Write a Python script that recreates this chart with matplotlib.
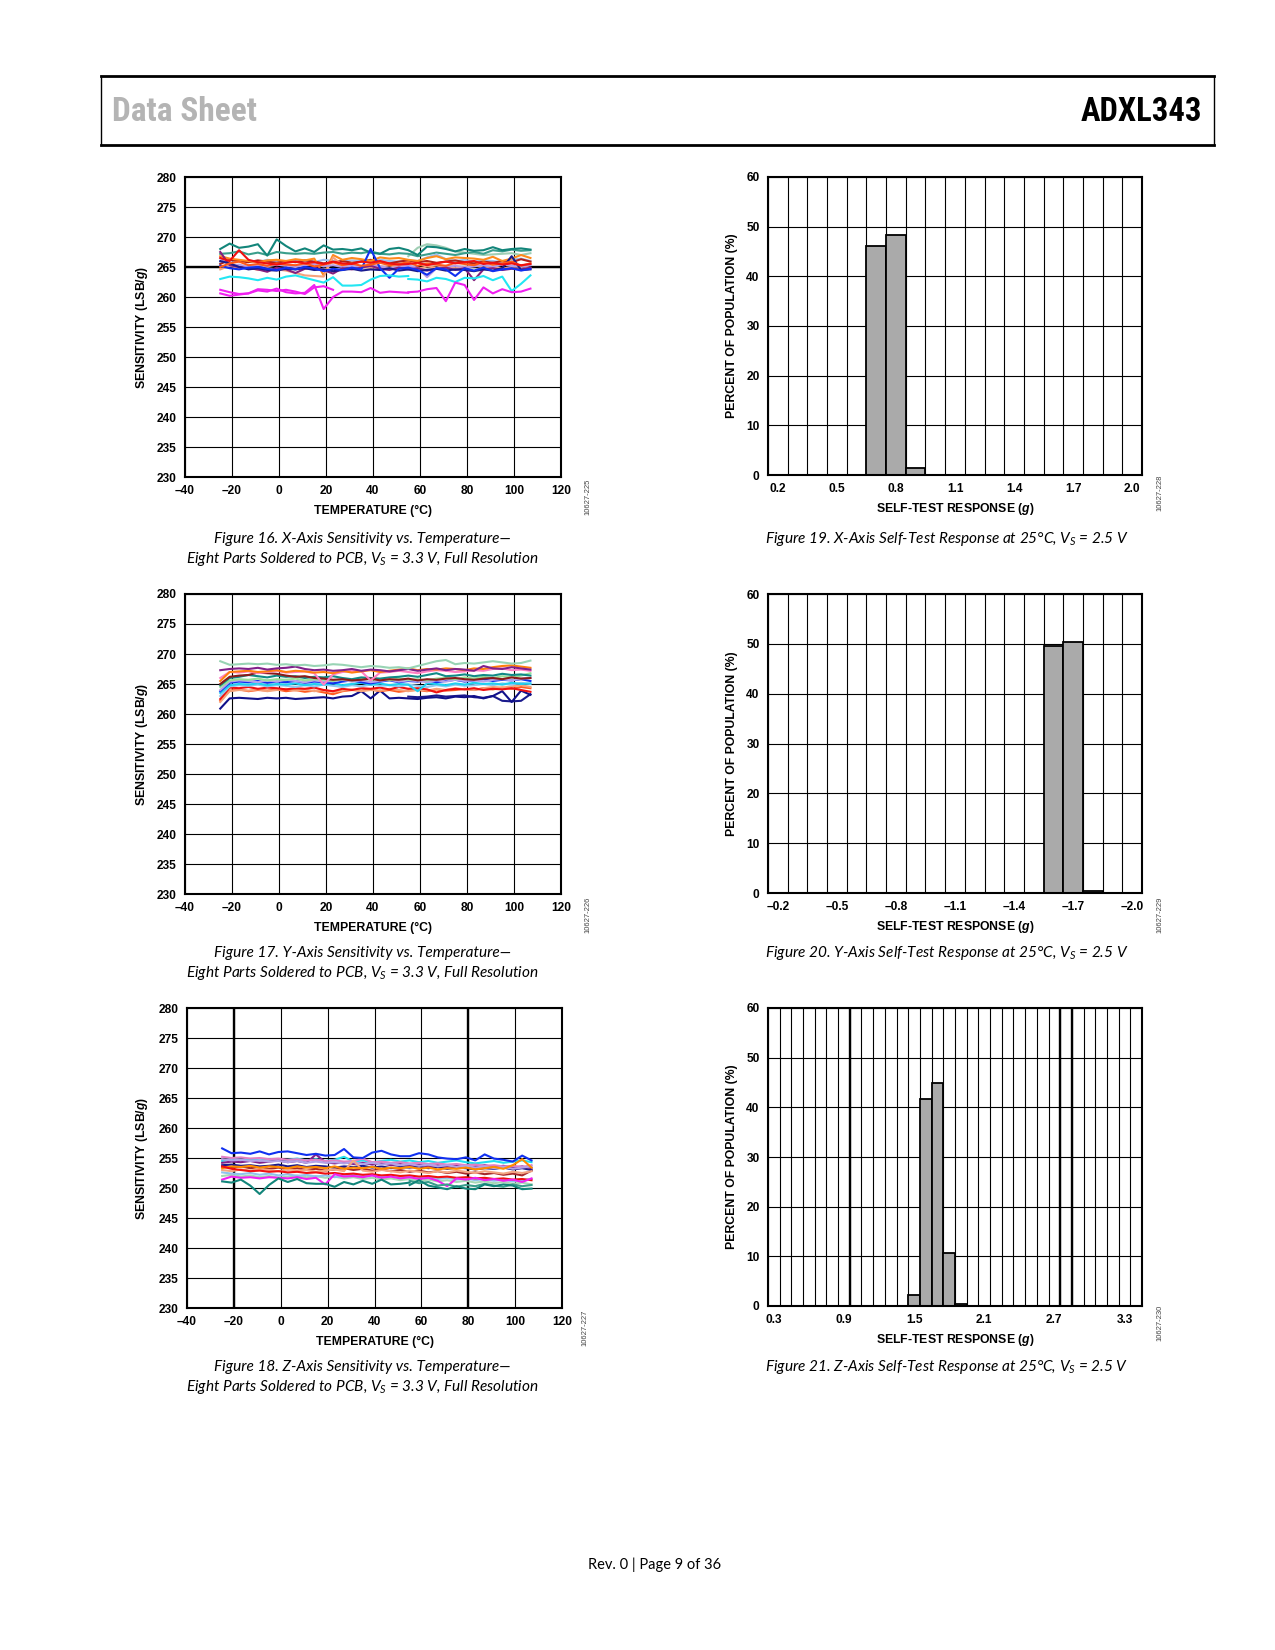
import numpy as np
import matplotlib
matplotlib.use('Agg')
import matplotlib.pyplot as plt
from matplotlib import font_manager
from matplotlib.lines import Line2D

N = np.nan

# ---------------- DATA ----------------
TEMP = [-25, -21, -17, -13, -9, -5, -1, 3, 7, 11, 15, 19, 23, 27, 31, 35, 39,
        43, 47, 51, 55, 59, 63, 67, 71, 75, 79, 83, 87, 91, 95, 99, 103, 107]

X_TICKS = [-40, -20, 0, 20, 40, 60, 80, 100, 120]
X_TICK_LABELS = ['\u201340', '\u201320', '0', '20', '40', '60', '80', '100', '120']
Y_TICKS = [230, 235, 240, 245, 250, 255, 260, 265, 270, 275, 280]

# Figure 16: X-axis sensitivity
X_SENS = {
    'pale_green_hi': [N, N, N, N, N, N, N, N, N, N, N, N, N, N, N, N, N,
                      N, N, N, 266.8, 268.2, 268.8, 268.6, 268.2, 267.6, 267.4, 267.2, 267.0, 267.1, 267.2, 267.3, 267.0, 267.3],
    'teal_lo': [267.2, 267.3, 267.6, 267.1, 267.4, 267.0, 267.5, 267.3, 267.2, 267.3, 267.2, 267.4, 267.5, 267.2, 267.4, 267.3, 267.6,
                267.2, 267.1, 267.3, 267.2, 266.8, 267.1, 267.4, 267.2, 267.0, 267.3, 267.5, 267.2, 267.8, 267.6, 267.9, 267.7, 267.8],
    'teal_hi': [268.0, 268.9, 268.2, 268.4, 268.8, 266.9, 269.6, 268.5, 267.6, 268.1, 267.5, 268.6, 267.9, 268.0, 267.8, 268.1, 267.4,
                267.2, 268.0, 268.2, 267.8, 267.0, 268.4, 268.3, 268.0, 267.6, 268.0, 267.7, 267.8, 268.3, 267.8, 268.0, 268.1, 267.9],
    'light_blue': [265.8, 266.1, 265.9, 266.0, 265.8, 266.2, 266.0, 265.9, 266.1, 266.0, 265.8, 266.2, 266.0, 265.9, 266.1, 266.0, 265.8,
                   266.2, 266.0, 265.9, 266.1, 266.0, 266.6, 267.1, 266.3, 266.0, 266.2, 265.9, 266.1, 266.0, 265.8, 266.2, 266.4, 266.0],
    'dark_red': [265.5, 266.2, 266.0, 265.8, 266.1, 265.9, 265.7, 266.0, 265.8, 266.1, 265.9, 265.6, 265.8, 266.0, 265.7, 265.9, 266.2,
                 265.8, 265.6, 265.9, 266.1, 265.8, 266.0, 265.7, 265.9, 266.1, 265.8, 265.6, 265.9, 265.7, 266.0, 265.8, 266.3, 265.9],
    'orange': [266.8, 266.4, 266.2, 266.0, 265.8, 266.1, 266.2, 266.0, 266.3, 266.1, 266.4, 263.6, 267.0, 266.2, 266.5, 266.3, 266.0,
               266.6, 266.4, 266.5, 266.2, 266.0, 266.5, 266.8, 266.3, 266.6, 266.5, 266.4, 266.2, 266.7, 266.0, 266.4, 267.0, 266.5],
    'salmon': [264.6, 265.2, 264.8, 265.0, 264.5, 264.8, 264.6, 264.4, 264.0, 263.6, 263.5, 263.4, 266.6, 265.3, 265.0, 265.2, 264.8,
               265.1, 264.9, 265.2, 265.0, 264.7, 265.1, 264.9, 265.2, 264.8, 265.0, 265.3, 264.9, 265.1, 264.7, 265.0, 265.2, 264.8],
    'lavender': [266.5, 265.2, 265.4, 265.0, 265.3, 265.1, 265.4, 265.2, 265.0, 265.3, 265.5, 265.1, 265.3, 265.0, 265.2, 264.9, 265.3,
                 265.1, 264.8, 265.0, 265.2, 264.9, 263.3, 264.8, 265.0, 265.2, 264.9, 265.1, 265.3, 265.0, 265.4, 265.2, 265.0, 265.3],
    'purple': [267.5, 265.3, 265.0, 264.8, 264.6, 264.2, 264.9, 264.6, 264.0, 264.7, 264.9, 264.5, 263.9, 264.8, 264.6, 264.9, 265.2,
               264.7, 264.5, 264.9, 264.6, 264.8, 264.4, 264.7, 264.9, 264.5, 264.8, 262.8, 264.6, 264.8, 264.5, 264.7, 264.6, 264.9],
    'navy': [266.0, 265.6, 265.0, 264.6, 264.8, 264.5, 264.4, 264.7, 264.6, 264.8, 264.5, 264.6, 264.3, 264.5, 264.7, 264.4, 264.6,
             264.5, 264.8, 264.4, 264.6, 264.3, 264.5, 264.7, 264.4, 264.6, 264.5, 264.3, 264.6, 264.4, 264.8, 266.8, 264.5, 264.6],
    'blue': [265.2, 264.8, 264.6, 264.9, 265.0, 264.7, 264.5, 264.9, 264.6, 265.0, 264.8, 264.3, 264.7, 264.5, 264.9, 264.6, 268.0,
             264.8, 263.2, 264.7, 264.9, 264.5, 263.7, 264.8, 264.6, 263.5, 264.8, 264.4, 264.9, 264.3, 264.6, 264.8, 264.4, 264.7],
    'orange_red': [265.0, 265.6, 265.9, 265.3, 265.5, 265.2, 265.6, 265.4, 265.3, 265.6, 265.1, 265.4, 265.8, 265.3, 265.6, 265.2, 265.4,
                   265.7, 265.3, 265.5, 265.8, 265.2, 265.6, 265.4, 265.2, 265.7, 265.5, 265.3, 265.8, 265.4, 265.6, 265.9, 265.2, 265.6],
    'red': [266.5, 266.0, 267.8, 266.2, 265.8, 265.6, 265.4, 265.7, 265.9, 265.6, 265.8, 265.5, 265.9, 265.6, 265.5, 265.9, 265.7,
            266.0, 265.6, 265.4, 265.5, 265.7, 265.3, 265.6, 265.9, 265.6, 265.8, 266.0, 265.5, 265.7, 265.4, 265.6, 265.3, 265.5],
    'cyan_a': [263.0, 263.4, 263.3, 263.1, 262.8, 263.2, 262.9, 263.4, 263.6, 263.2, 262.8, 262.4, 263.3, 261.9, 261.9, 262.0, 262.9,
               263.5, 263.6, 263.4, 263.5, N, N, N, N, N, N, N, N, N, N, N, N, N],
    'cyan_b': [N, N, N, N, N, N, N, N, N, N, N, N, N, N, N, N, N,
               N, N, N, 263.0, 262.9, 262.6, 263.2, 263.0, 262.5, 263.2, 263.1, 263.5, 262.8, 263.4, 261.0, 262.2, 263.6],
    'magenta_a': [261.2, 260.8, 260.5, 260.6, 261.1, 260.9, 261.4, 260.8, 260.6, 260.7, 262.0, 258.0, 260.0, 260.9, 260.9, 260.8, 261.5,
                  260.7, 260.9, 260.8, 260.7, N, N, N, N, N, N, N, N, N, N, N, N, N],
    'magenta_b': [260.6, 260.2, 260.4, 260.6, 261.3, 261.2, 261.0, 261.2, 260.9, 260.5, 261.6, 261.8, 261.2, N, N, N, N,
                  N, N, N, N, N, N, N, N, N, N, N, N, N, N, N, N, N],
    'magenta_c': [N, N, N, N, N, N, N, N, N, N, N, N, N, N, N, N, N,
                  N, N, N, 260.8, 260.9, 261.3, 261.5, 259.3, 262.4, 262.0, 259.5, 261.6, 260.6, 261.3, 260.8, 260.9, 261.4],
}
X_COLORS = {
    'pale_green_hi': '#9fceb4', 'teal_lo': '#3a9e8c', 'teal_hi': '#12857a', 'light_blue': '#9cc0f0',
    'dark_red': '#b0201a', 'orange': '#ff8a1c', 'salmon': '#f7a27c', 'lavender': '#b59ce6',
    'purple': '#86207e', 'navy': '#1a1a8c', 'blue': '#1030f0', 'orange_red': '#ff5a1a',
    'red': '#f01010', 'cyan_a': '#22e6f2', 'cyan_b': '#22e6f2', 'magenta_a': '#f020f0',
    'magenta_b': '#f020f0', 'magenta_c': '#f020f0',
}

# Figure 17: Y-axis sensitivity
Y_SENS = {
    'navy_b': [N, N, N, N, N, N, N, N, N, N, N, N, N, N, N, N, N,
               N, N, N, 262.9, 262.8, 262.9, 263.1, 262.9, 263.0, 263.1, 262.8, 262.7, 263.0, 262.2, 262.1, 262.2, 263.3],
    'navy_a': [260.9, 262.6, 262.7, 262.6, 262.5, 262.7, 262.6, 262.7, 262.5, 262.6, 262.7, 262.8, 262.6, 262.9, 263.0, 263.8, 262.6,
               263.9, 262.6, 262.7, 262.6, 262.5, 262.7, 262.8, 262.6, 262.9, 262.8, 263.0, 262.6, 263.0, 263.8, 262.0, 263.9, 263.2],
    'orange_red': [262.2, 263.9, 264.1, 263.8, 264.0, 263.9, 264.1, 263.8, 264.0, 263.7, 263.9, 263.6, 263.3, 263.8, 264.0, 263.9, 264.1,
                   263.8, 264.0, 263.7, 263.9, 264.0, 263.8, 264.1, 263.9, 264.0, 264.2, 264.0, 264.3, 264.1, 264.4, 264.2, 264.5, 264.3],
    'salmon': [262.0, 263.8, 264.0, 263.9, 264.1, 263.8, 264.0, 264.2, 263.9, 264.1, 263.8, 264.0, 263.7, 263.9, 264.1, 263.8, 264.0,
               263.9, 264.2, 264.0, 263.8, 264.1, 263.9, 264.2, 264.0, 264.3, 264.1, 264.0, 264.3, 264.5, 264.4, 264.6, 264.8, 264.5],
    'red': [262.5, 264.4, 264.3, 264.5, 264.2, 264.4, 264.3, 264.1, 264.3, 264.2, 264.4, 264.0, 263.8, 264.2, 264.0, 264.3, 264.2,
            264.4, 264.1, 264.5, 264.2, 264.3, 264.1, 263.6, 264.0, 264.2, 264.1, 264.3, 264.0, 264.2, 264.1, 264.3, 264.0, 263.7],
    'light_blue': [263.0, 264.6, 264.8, 264.7, 264.9, 264.6, 264.8, 264.7, 264.5, 264.8, 264.6, 264.9, 264.7, 264.5, 264.8, 264.6, 264.9,
                   264.7, 264.8, 264.6, 264.9, 264.7, 264.5, 264.8, 264.6, 264.9, 264.7, 264.8, 265.0, 264.8, 265.1, 264.9, 265.2, 265.0],
    'cyan': [263.5, 264.8, 265.0, 264.9, 265.1, 264.8, 265.0, 264.9, 265.1, 264.8, 265.0, 264.9, 265.1, 264.8, 265.0, 265.2, 264.9,
             265.1, 264.8, 265.0, 264.9, 263.8, 265.1, 265.0, 264.8, 265.1, 264.9, 265.2, 265.0, 265.1, 264.9, 265.2, 265.0, 265.1],
    'blue': [263.8, 265.2, 265.4, 265.3, 265.5, 265.2, 265.4, 265.3, 265.5, 265.2, 265.4, 265.3, 265.1, 265.4, 265.6, 265.3, 265.1,
             265.4, 265.6, 265.3, 265.5, 265.4, 265.6, 265.3, 265.5, 265.7, 265.4, 265.6, 265.8, 265.5, 265.7, 265.6, 265.8, 265.5],
    'lavender': [264.0, 265.4, 265.6, 265.5, 265.3, 265.6, 265.4, 265.7, 265.5, 265.3, 265.6, 265.4, 265.5, 265.7, 265.4, 265.6, 265.3,
                 265.5, 265.7, 265.4, 265.6, 265.5, 265.3, 265.6, 265.4, 265.7, 265.5, 265.6, 265.4, 265.7, 265.8, 265.6, 265.9, 266.0],
    'light_green': [264.5, 265.6, 265.8, 265.7, 265.9, 265.6, 265.8, 265.7, 265.9, 265.6, 265.8, 265.7, 265.5, 265.8, 265.6, 265.9, 265.7,
                    265.8, 265.6, 265.9, 265.7, 265.8, 265.6, 265.9, 266.0, 265.8, 266.1, 265.9, 266.2, 266.0, 266.3, 266.1, 266.4, 266.8],
    'teal': [264.8, 266.0, 266.2, 266.5, 266.3, 266.1, 266.4, 266.2, 266.3, 266.0, 266.2, 266.1, 266.3, 266.0, 265.8, 266.1, 266.0,
             265.9, 266.1, 266.2, 266.4, 266.2, 266.5, 266.8, 266.3, 266.4, 266.6, 266.3, 266.5, 266.4, 266.7, 266.5, 266.6, 266.4],
    'dark_red': [265.0, 266.2, 266.4, 266.5, 266.9, 266.8, 266.7, 266.4, 266.2, 266.3, 266.0, 265.9, 265.7, 265.8, 265.6, 265.7, 265.9,
                 265.6, 265.8, 265.7, 265.9, 265.6, 265.8, 265.7, 265.9, 266.0, 265.8, 265.7, 265.9, 266.0, 265.8, 266.1, 265.9, 266.0],
    'pink': [266.0, 267.0, 266.9, 267.1, 266.8, 267.0, 267.2, 266.9, 267.0, 267.1, 266.8, 264.9, 266.6, 267.0, 267.2, 267.1, 265.6,
             266.9, 267.0, 267.2, 267.0, 266.8, 267.1, 267.3, 267.2, 267.0, 267.1, 267.3, 267.2, 267.5, 267.6, 267.3, 267.4, 267.2],
    'orange': [265.5, 267.0, 267.1, 267.2, 267.0, 267.1, 267.3, 267.0, 267.2, 267.1, 266.9, 267.0, 266.8, 267.2, 266.9, 267.1, 267.3,
               267.0, 267.2, 267.4, 267.6, 267.3, 267.5, 267.4, 267.6, 267.5, 267.3, 267.6, 267.5, 267.8, 268.0, 268.1, 267.9, 267.7],
    'purple': [267.3, 267.5, 267.6, 267.5, 267.7, 267.4, 267.6, 267.7, 267.9, 267.5, 267.3, 267.4, 267.2, 267.3, 267.5, 267.2, 267.4,
               267.3, 267.1, 267.3, 267.5, 267.2, 267.4, 267.6, 267.3, 267.5, 267.4, 267.2, 268.0, 267.6, 267.5, 267.8, 267.6, 267.4],
    'pale_green': [268.8, 268.2, 268.3, 268.4, 268.3, 268.4, 268.2, 268.3, 268.1, 268.2, 268.0, 268.1, 268.3, 268.2, 268.0, 267.8, 268.0,
                   267.9, 267.7, 267.8, 267.6, 268.0, 268.4, 268.8, 269.0, 268.3, 268.5, 268.4, 268.6, 268.8, 268.6, 268.4, 268.5, 268.9],
}
Y_COLORS = {
    'navy_b': '#1a1a8c', 'navy_a': '#10108a', 'orange_red': '#ff5a1f', 'salmon': '#f5a37a', 'red': '#f01010',
    'light_blue': '#8ec8f0', 'cyan': '#20d0f0', 'blue': '#1030f0', 'lavender': '#b7a4ea', 'light_green': '#98e098',
    'teal': '#108a86', 'dark_red': '#8b1a1a', 'pink': '#ff80c4', 'orange': '#ff7f0e', 'purple': '#80208a',
    'pale_green': '#98d4b4',
}

# Figure 18: Z-axis sensitivity
Z_SENS = {
    'pale_green': [252.0, 252.2, 251.9, 252.1, 251.8, 252.0, 251.7, 251.9, 252.1, 251.8, 252.0, 251.7, 251.9, 251.6, 251.8, 251.5, 251.7,
                   251.4, 251.6, 251.3, 251.5, 251.2, 251.4, 251.1, 251.3, 251.0, 251.2, 250.9, 251.1, 250.8, 251.0, 250.7, 250.9, 250.6],
    'light_blue': [252.6, 252.4, 252.3, 252.5, 252.2, 252.4, 252.1, 252.3, 252.0, 252.2, 251.9, 252.1, 251.8, 252.0, 252.2, 251.9, 252.1,
                   251.8, 252.0, 251.7, 251.9, 251.6, 251.8, 251.5, 251.7, 251.4, 251.6, 251.3, 251.5, 251.2, 251.4, 251.1, 251.3, 251.5],
    'dark_red': [253.5, 253.4, 253.6, 253.3, 253.5, 253.2, 253.4, 253.1, 253.3, 253.0, 253.2, 252.9, 253.1, 253.3, 253.0, 253.2, 252.9,
                 253.1, 252.8, 253.0, 252.7, 252.9, 252.6, 252.8, 252.5, 252.7, 252.4, 252.6, 252.3, 252.5, 252.2, 252.4, 252.1, 252.9],
    'navy': [253.8, 253.9, 253.7, 253.8, 253.6, 253.7, 253.9, 253.6, 253.8, 253.5, 253.7, 253.6, 253.4, 253.6, 253.5, 253.7, 253.4,
             253.6, 253.3, 253.5, 253.4, 253.6, 253.3, 253.5, 253.2, 253.4, 253.3, 253.1, 253.3, 253.2, 253.4, 253.1, 253.3, 253.0],
    'cyan': [254.5, 254.9, 254.7, 254.8, 254.6, 254.8, 254.5, 254.7, 254.9, 254.6, 254.8, 254.5, 254.7, 255.2, 254.4, 254.6, 254.3,
             254.5, 254.7, 254.4, 254.6, 254.3, 254.5, 254.2, 254.4, 254.6, 254.3, 254.1, 254.3, 254.5, 254.2, 254.4, 254.6, 254.3],
    'purple': [254.2, 254.4, 254.3, 254.5, 254.2, 254.4, 254.6, 254.3, 254.5, 254.2, 255.6, 254.3, 254.1, 254.3, 254.0, 254.2, 253.9,
               254.1, 253.8, 254.0, 253.7, 253.9, 253.6, 253.8, 253.5, 253.7, 253.4, 253.6, 253.8, 253.5, 253.7, 253.4, 253.6, 253.3],
    'pink': [255.2, 255.0, 255.1, 254.9, 255.0, 254.8, 254.9, 254.7, 254.8, 254.6, 254.7, 254.5, 254.6, 254.4, 254.5, 254.9, 254.3,
             254.4, 254.2, 254.3, 254.1, 254.2, 254.0, 254.1, 253.9, 254.0, 253.8, 253.9, 253.7, 253.8, 253.6, 253.7, 253.5, 253.8],
    'lavender': [254.8, 254.6, 254.7, 254.5, 254.6, 254.4, 254.5, 254.3, 254.5, 254.2, 254.4, 254.2, 254.3, 254.1, 254.3, 254.0, 254.2,
                 253.9, 254.1, 253.8, 254.0, 253.7, 253.9, 253.6, 253.8, 253.5, 253.7, 253.4, 253.6, 253.3, 253.5, 253.2, 253.4, 253.6],
    'salmon': [253.0, 252.8, 253.1, 252.9, 253.2, 253.0, 252.8, 253.1, 252.9, 253.0, 252.7, 252.9, 253.1, 252.8, 254.6, 252.9, 252.7,
               253.0, 252.8, 252.6, 252.9, 252.7, 252.5, 252.8, 252.6, 252.9, 252.7, 252.5, 252.8, 252.6, 252.4, 252.7, 252.5, 252.8],
    'orange': [253.3, 253.6, 253.5, 253.7, 253.4, 253.6, 253.5, 253.3, 253.6, 253.4, 253.5, 253.3, 253.6, 253.2, 253.4, 253.3, 253.5,
               253.2, 253.4, 253.3, 253.5, 253.2, 253.4, 253.1, 253.3, 253.2, 253.4, 253.1, 253.3, 253.5, 253.2, 253.8, 254.8, 253.4],
    'red': [253.6, 253.2, 253.0, 252.8, 252.9, 252.7, 252.8, 252.6, 252.7, 252.5, 252.6, 252.4, 252.5, 252.3, 252.4, 252.2, 252.3,
            252.1, 252.2, 252.0, 252.1, 251.9, 252.0, 251.8, 251.9, 251.7, 251.8, 251.6, 251.7, 251.5, 251.6, 251.4, 251.5, 251.3],
    'magenta': [251.4, 251.9, 251.7, 251.8, 251.6, 251.8, 251.7, 251.6, 251.8, 251.5, 251.7, 250.6, 252.3, 251.9, 252.0, 251.8, 252.1,
                251.7, 251.9, 251.6, 251.8, 251.5, 251.7, 251.2, 250.3, 251.6, 251.4, 251.7, 251.3, 251.5, 251.2, 251.4, 251.0, 251.6],
    'teal_c': [N, N, N, N, N, N, N, N, N, N, N, N, N, N, N, N, N,
               N, N, N, 251.2, 250.8, 251.0, 250.4, 250.6, 250.2, 250.5, 250.3, 250.7, 250.4, 250.2, 250.6, 250.3, 250.5],
    'teal_b': [N, N, N, N, N, N, N, N, N, N, N, N, N, N, N, N, N,
               N, N, N, 250.5, 251.3, 250.4, 250.1, 249.8, 250.3, 249.9, 249.8, 250.6, 250.3, 250.6, 250.4, 249.8, 249.9],
    'teal_a': [251.1, 250.9, 251.4, 250.4, 249.0, 250.5, 251.6, 251.0, 251.5, 250.8, 250.7, 250.7, 250.2, 251.0, 250.6, 251.2, 250.7,
               251.4, 250.6, 250.7, 250.9, N, N, N, N, N, N, N, N, N, N, N, N, N],
    'blue': [256.6, 255.8, 255.9, 255.7, 256.1, 255.6, 256.0, 256.1, 255.8, 255.5, 255.7, 255.4, 255.5, 256.5, 255.1, 255.0, 255.9,
             256.2, 255.6, 255.3, 255.3, 255.8, 255.6, 255.1, 254.9, 254.8, 255.1, 254.6, 255.6, 254.9, 254.7, 254.4, 255.4, 254.6],
}
Z_COLORS = {
    'pale_green': '#a6d9b5', 'light_blue': '#8fc2ee', 'dark_red': '#a52a2a', 'navy': '#1a1a8c', 'cyan': '#20e0ee',
    'purple': '#80208a', 'pink': '#e37fc4', 'lavender': '#b3a2e8', 'salmon': '#f4a582', 'orange': '#ff8c00',
    'red': '#f01010', 'magenta': '#f020f0', 'teal_c': '#3a9e8c', 'teal_b': '#12857a', 'teal_a': '#12857a',
    'blue': '#1030f0',
}

# Self-test histograms (bin centre, percent)
XST_BINS = [0.7, 0.8, 0.9]
XST_PCT = [46.2, 48.3, 1.5]
XST_TICKS = [0.2, 0.5, 0.8, 1.1, 1.4, 1.7, 2.0]
XST_LABELS = ['0.2', '0.5', '0.8', '1.1', '1.4', '1.7', '2.0']

YST_BINS = [-1.6, -1.7, -1.8]
YST_PCT = [49.6, 50.3, 0.4]
YST_TICKS = [-0.2, -0.5, -0.8, -1.1, -1.4, -1.7, -2.0]
YST_LABELS = ['\u20130.2', '\u20130.5', '\u20130.8', '\u20131.1', '\u20131.4', '\u20131.7', '\u20132.0']

ZST_BINS = [1.5, 1.6, 1.7, 1.8, 1.9]
ZST_PCT = [2.2, 41.7, 45.0, 10.6, 0.5]
ZST_TICKS = [0.3, 0.9, 1.5, 2.1, 2.7, 3.3]
ZST_LABELS = ['0.3', '0.9', '1.5', '2.1', '2.7', '3.3']

PCT_TICKS = [0, 10, 20, 30, 40, 50, 60]

# ---------------- FONTS ----------------
names = {f.name for f in font_manager.fontManager.ttflist}


def pick(*cands):
    for n in cands:
        if n in names:
            return n
    return 'DejaVu Sans'


SANS = pick('Liberation Sans', 'Arial', 'DejaVu Sans')
NARROW = pick('Liberation Sans Narrow', 'Roboto Condensed', 'Liberation Sans')
CAP = pick('Lato', 'Open Sans', 'Noto Sans')

plt.rcParams['font.family'] = [SANS, 'DejaVu Sans']
plt.rcParams['mathtext.fontset'] = 'custom'
plt.rcParams['mathtext.it'] = CAP + ':italic'
plt.rcParams['mathtext.rm'] = CAP + ':italic'
plt.rcParams['mathtext.bf'] = SANS + ':bold:italic'

W, H = 1275, 1650
fig = plt.figure(figsize=(W / 100, H / 100), dpi=100)


def axes_px(l, t, r, b):
    return fig.add_axes([l / W, 1 - b / H, (r - l) / W, (b - t) / H])


def ftext(x, y, s, **kw):
    return fig.text(x / W, 1 - y / H, s, **kw)


def hline_px(x0, x1, y, lw):
    fig.add_artist(Line2D([x0 / W, x1 / W], [1 - y / H, 1 - y / H], color='black', lw=lw,
                          transform=fig.transFigure))


def vline_px(x, y0, y1, lw):
    fig.add_artist(Line2D([x / W, x / W], [1 - y0 / H, 1 - y1 / H], color='black', lw=lw,
                          transform=fig.transFigure))


TICK_FS = 8.6
LAB_FS = 8.8
CAP_FS = 11.1


def style_ticks(ax):
    ax.tick_params(which='both', length=0, labelsize=TICK_FS)
    ax.tick_params(axis='y', pad=6)
    ax.tick_params(axis='x', pad=6)
    for lab in ax.get_xticklabels() + ax.get_yticklabels():
        lab.set_fontweight('bold')
    for s in ax.spines.values():
        s.set_linewidth(1.5)
        s.set_zorder(5)


def line_chart(box, data, colors, thick_h=(), thick_v=()):
    ax = axes_px(*box)
    ax.set_axisbelow(True)
    for key, vals in data.items():
        ax.plot(TEMP, vals, color=colors[key], lw=1.5, zorder=3)
    ax.set_xlim(-40, 120)
    ax.set_ylim(230, 280)
    ax.set_xticks(X_TICKS)
    ax.set_xticklabels(X_TICK_LABELS)
    ax.set_yticks(Y_TICKS)
    ax.grid(True, color='black', lw=0.8)
    for v in thick_h:
        ax.axhline(v, color='black', lw=1.7, zorder=1)
    for v in thick_v:
        ax.axvline(v, color='black', lw=1.7, zorder=1)
    style_ticks(ax)
    l, t, r, b = box
    ftext((l + r) / 2, b + 34, 'TEMPERATURE (\u00b0C)', ha='center', va='center',
          fontsize=LAB_FS, fontweight='bold')
    ftext(142, (t + b) / 2, 'SENSITIVITY (LSB/$\\mathbf{g}$)', ha='center', va='center',
          rotation=90, fontsize=LAB_FS, fontweight='bold')
    return ax


def hist_chart(box, centers, pct, xlim, ticks, labels, thick=()):
    ax = axes_px(*box)
    ax.set_axisbelow(True)
    ax.bar(centers, pct, width=0.1, color='#aaaaaa', edgecolor='black', lw=1.3, zorder=3)
    ax.set_xlim(*xlim)
    ax.set_ylim(0, 60)
    ax.set_xticks(ticks)
    ax.set_xticklabels(labels)
    lo, hi = min(xlim), max(xlim)
    nb = int(round((hi - lo) / 0.1))
    ax.set_xticks([lo + 0.1 * k for k in range(nb + 1)], minor=True)
    ax.set_yticks(PCT_TICKS)
    ax.grid(True, which='minor', axis='x', color='black', lw=0.8)
    ax.grid(True, which='major', axis='y', color='black', lw=0.8)
    ax.grid(False, which='major', axis='x')
    for v in thick:
        ax.axvline(v, color='black', lw=1.7, zorder=1)
    style_ticks(ax)
    l, t, r, b = box
    ftext((l + r) / 2, b + 34, 'SELF-TEST RESPONSE ($\\mathbf{g}$)', ha='center', va='center',
          fontsize=LAB_FS, fontweight='bold')
    ftext(732, (t + b) / 2, 'PERCENT OF POPULATION (%)', ha='center', va='center',
          rotation=90, fontsize=LAB_FS, fontweight='bold')
    return ax


# ---------------- HEADER ----------------
hline_px(101, 1214, 76, 2.0)
hline_px(101, 1214, 145, 2.0)
vline_px(101, 76, 145, 1.0)
vline_px(1214, 76, 145, 1.0)
ftext(112, 112, 'Data Sheet', ha='left', va='center', fontsize=24, fontweight='bold',
      color='#b4b4b4', family=[NARROW, 'DejaVu Sans'])
ftext(1202, 112, 'ADXL343', ha='right', va='center', fontsize=23.5, fontweight='bold',
      color='black', family=[NARROW, 'DejaVu Sans'])

# ---------------- CHARTS ----------------
line_chart((185, 177, 561, 477), X_SENS, X_COLORS, thick_h=(265,))
line_chart((185, 594, 561, 894), Y_SENS, Y_COLORS)
line_chart((187, 1008, 562, 1308), Z_SENS, Z_COLORS, thick_v=(-20, 80))

hist_chart((768, 177, 1142, 475), XST_BINS, XST_PCT, (0.15, 2.05), XST_TICKS, XST_LABELS)
hist_chart((768, 594, 1142, 893), YST_BINS, YST_PCT, (-0.15, -2.05), YST_TICKS, YST_LABELS)
hist_chart((768, 1008, 1142, 1306), ZST_BINS, ZST_PCT, (0.25, 3.45), ZST_TICKS, ZST_LABELS,
           thick=(0.95, 2.75, 2.85))

# figure ids
for (x, y, s) in [(588, 497, '10627-225'), (588, 915, '10627-226'), (585, 1328, '10627-227'),
                  (1160, 493, '10627-228'), (1160, 915, '10627-229'), (1160, 1323, '10627-230')]:
    ftext(x, y, s, rotation=90, ha='center', va='center', fontsize=5.5, color='#444444')

# captions
cap_kw = dict(ha='center', va='center', fontsize=CAP_FS, style='italic', family=[CAP, 'DejaVu Sans'])
ftext(362, 539, 'Figure 16. X-Axis Sensitivity vs. Temperature\u2014', **cap_kw)
ftext(362, 559, 'Eight Parts Soldered to PCB, $V_S$ = 3.3 V, Full Resolution', **cap_kw)
ftext(362, 953, 'Figure 17. Y-Axis Sensitivity vs. Temperature\u2014', **cap_kw)
ftext(362, 973, 'Eight Parts Soldered to PCB, $V_S$ = 3.3 V, Full Resolution', **cap_kw)
ftext(362, 1367, 'Figure 18. Z-Axis Sensitivity vs. Temperature\u2014', **cap_kw)
ftext(362, 1387, 'Eight Parts Soldered to PCB, $V_S$ = 3.3 V, Full Resolution', **cap_kw)
ftext(947, 539, 'Figure 19. X-Axis Self-Test Response at 25\u00b0C, $V_S$ = 2.5 V', **cap_kw)
ftext(947, 953, 'Figure 20. Y-Axis Self-Test Response at 25\u00b0C, $V_S$ = 2.5 V', **cap_kw)
ftext(947, 1367, 'Figure 21. Z-Axis Self-Test Response at 25\u00b0C, $V_S$ = 2.5 V', **cap_kw)

# footer
ftext(655, 1565, 'Rev. 0 | Page 9 of 36', ha='center', va='center', fontsize=10.5,
      family=[CAP, 'DejaVu Sans'])

fig.savefig('out.png', dpi=100)
